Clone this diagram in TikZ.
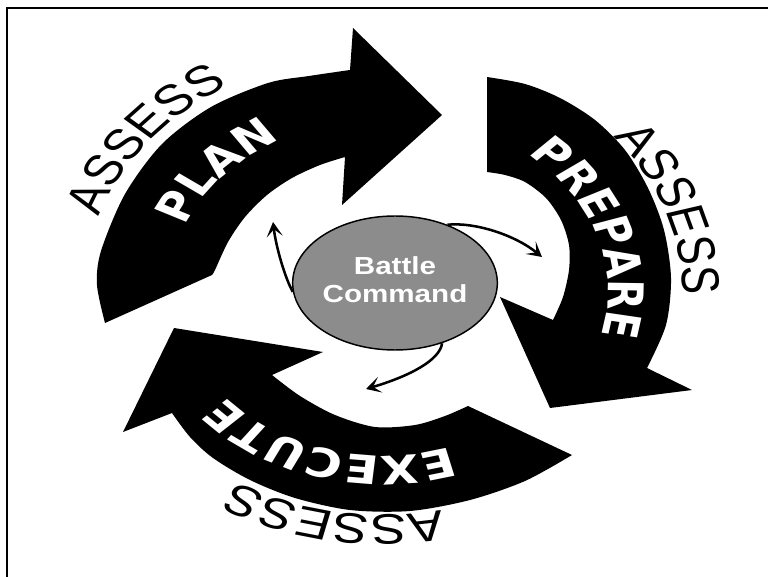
\documentclass[tikz,border=0pt]{standalone}
\usepackage{fontspec}
\usepackage{graphicx}
\usetikzlibrary{decorations.text,arrows.meta,shapes.geometric}
\newfontfamily\lsans{Liberation Sans}
\newfontfamily\dvsans{DejaVu Sans}
\newcommand\assessfont{\lsans\fontsize{32}{32}\selectfont}
\newcommand\phasefont{\dvsans\bfseries\fontsize{29.5}{30}\selectfont}
\newcommand\bcfont{\lsans\bfseries\fontsize{18.5}{20.5}\selectfont}
\definecolor{bcgray}{RGB}{140,140,140}
\begin{document}
\begin{tikzpicture}[x=0.75pt,y=0.75pt,
  bigarrow/.style={fill=black},
  smallarrow/.style={line width=1.9pt,-{Stealth[length=11pt,width=12pt,inset=5.5pt]}},
  bcnode/.style={ellipse,draw=black,line width=1.1pt,fill=bcgray,text=white,
    minimum width=142.5pt,minimum height=100.5pt,inner sep=0pt},
  assesstext/.style={decorate,decoration={text along path,text align=center,
    text={|\assessfont|ASSESS}}},
  phasetext/.style={decorate,decoration={text along path,text align=center,
    text color=white,text={|\phasefont|#1}}}]
\useasboundingbox (0,-577) rectangle (768,0);
\draw[line width=1.9pt] (7,-577) -- (7,-8) -- (768,-8);

% PLAN arrow
\fill[bigarrow] plot[smooth] coordinates {(105,-323) (97,-285) (101,-251) (125,-194) (162,-144) (211,-107) (268,-83) (309,-76) (350,-70)}
  -- (353,-28) -- (442,-115) -- (342,-205)
  -- plot[smooth] coordinates {(345,-157) (320,-165) (292,-178) (267,-195) (245,-217) (228,-242) (215,-270) (212,-275)} -- cycle;
% PREPARE arrow
\fill[bigarrow] plot[smooth] coordinates {(487,-77) (525,-84) (560,-98) (595,-120) (625,-150) (648,-188) (664,-230) (671,-278) (666,-325) (647,-368)}
  -- (692,-390) -- (550,-408) -- (500,-297)
  -- plot[smooth] coordinates {(553,-320) (563,-297) (569,-270) (569,-245) (561,-220) (546,-198) (525,-182) (505,-175) (487,-172)} -- cycle;
% EXECUTE arrow
\fill[bigarrow] plot[smooth] coordinates {(572,-455) (525,-481) (470,-500) (410,-511) (350,-510) (295,-498) (250,-480) (213,-458) (190,-437) (172,-413)}
  -- (123,-432) -- (174,-328) -- (323,-352)
  -- plot[smooth] coordinates {(272,-375) (300,-396) (335,-415) (375,-427) (415,-425) (445,-416) (468,-406)} -- cycle;

% centre
\node[bcnode] (bc) at (395,-283) {\scalebox{1.2}[1]{\bcfont\begin{tabular}{@{}c@{}}Battle\\Command\end{tabular}}};
\coordinate (t1) at (273,-222);
\coordinate (t2) at (542,-257);
\coordinate (t3) at (366,-389);
\draw[smallarrow] (bc.185) .. controls (285,-278) and (276,-247) .. (t1);
\draw[smallarrow] (bc.48) .. controls (475,-222) and (515,-235) .. (t2);
\draw[smallarrow] (bc.-52) .. controls (440,-360) and (410,-376) .. (t3);

% texts (drawn unstretched, then stretched horizontally)
\begin{scope}[transform canvas={xscale=1.25}]
\coordinate (C) at (307.2,-291);
\path[assesstext] ([shift={(181.5:240)}]C) arc[start angle=181.5,end angle=101.5,radius=240];
\path[assesstext] ([shift={(59.6:239)}]C) arc[start angle=59.6,end angle=-20.4,radius=239];
\path[assesstext] ([shift={(300:224)}]C) arc[start angle=300,end angle=220,radius=224];
\path[phasetext=PLAN] ([shift={(178.2:172)}]C) arc[start angle=178.2,end angle=98.2,radius=172];
\path[phasetext=PREPARE] ([shift={(57.8:179)}]C) arc[start angle=57.8,end angle=-22.2,radius=179];
\path[phasetext=EXECUTE] ([shift={(294.3:165)}]C) arc[start angle=294.3,end angle=214.3,radius=165];
\end{scope}
\end{tikzpicture}
\end{document}
